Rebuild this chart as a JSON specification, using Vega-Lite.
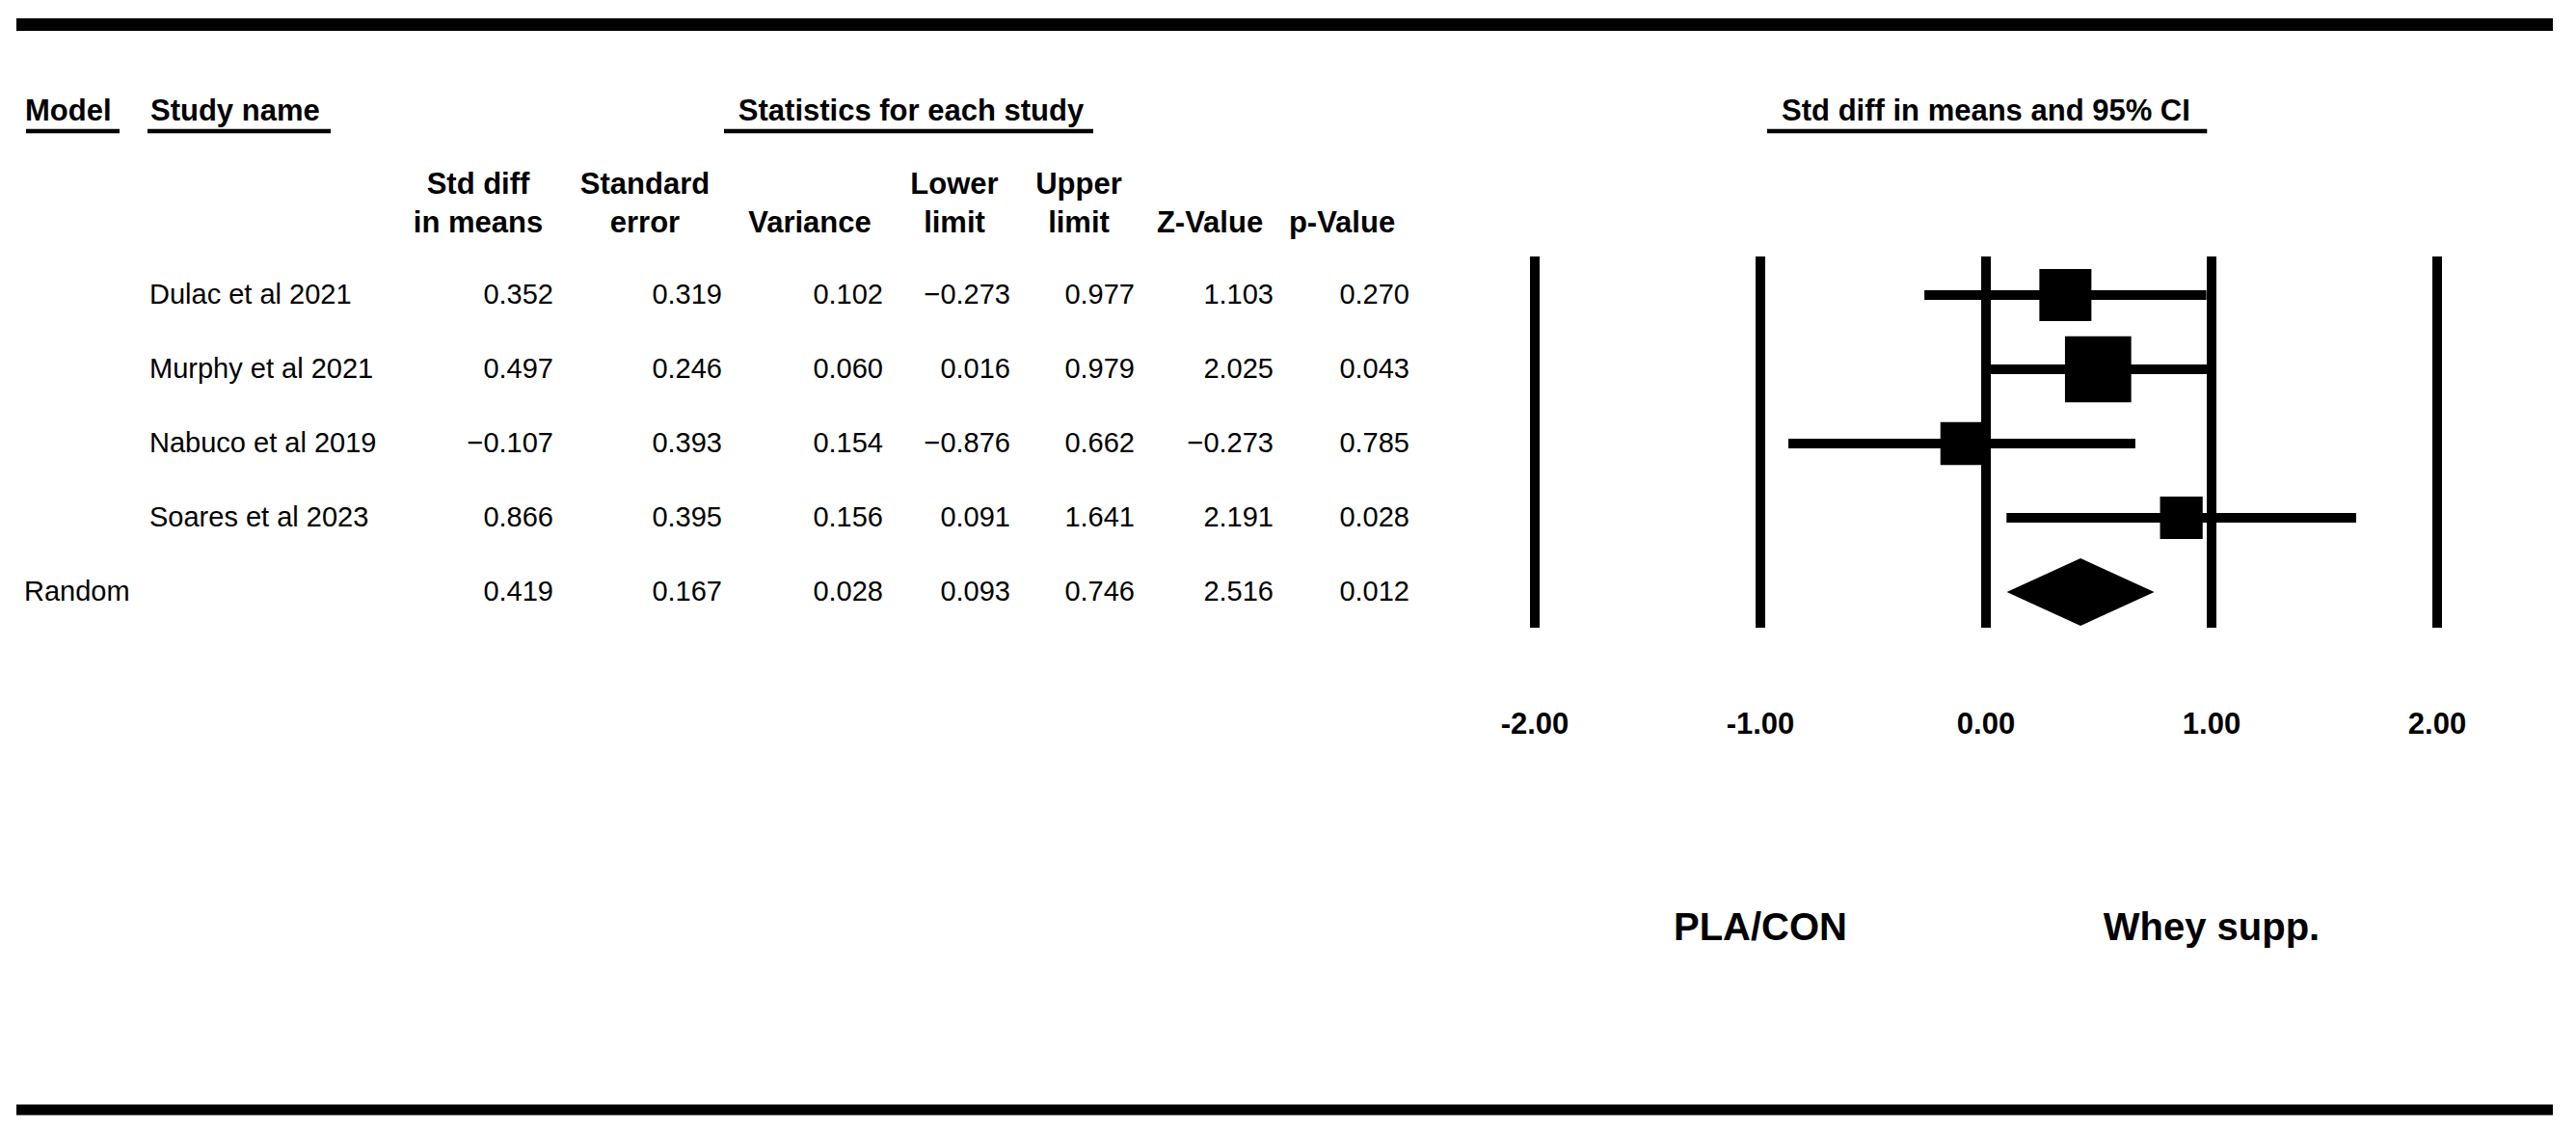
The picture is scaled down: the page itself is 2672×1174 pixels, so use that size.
{
  "$schema": "https://vega.github.io/schema/vega-lite/v6.json",
  "width": 2672,
  "height": 1174,
  "autosize": "none",
  "padding": 0,
  "background": "white",
  "config": {"view": {"stroke": null}},
  "datasets": {
    "studies": [
      {"row": 1, "kind": "study", "model": "", "study": "Dulac et al 2021", "smd": 0.352, "se": 0.319, "variance": 0.102, "lower": -0.273, "upper": 0.977, "z": 1.103, "p": 0.270, "weight": 25.2},
      {"row": 2, "kind": "study", "model": "", "study": "Murphy et al 2021", "smd": 0.497, "se": 0.246, "variance": 0.060, "lower": 0.016, "upper": 0.979, "z": 2.025, "p": 0.043, "weight": 40.8},
      {"row": 3, "kind": "study", "model": "", "study": "Nabuco et al 2019", "smd": -0.107, "se": 0.393, "variance": 0.154, "lower": -0.876, "upper": 0.662, "z": -0.273, "p": 0.785, "weight": 17.1},
      {"row": 4, "kind": "study", "model": "", "study": "Soares et al 2023", "smd": 0.866, "se": 0.395, "variance": 0.156, "lower": 0.091, "upper": 1.641, "z": 2.191, "p": 0.028, "weight": 16.9},
      {"row": 5, "kind": "summary", "model": "Random", "study": "", "smd": 0.419, "se": 0.167, "variance": 0.028, "lower": 0.093, "upper": 0.746, "z": 2.516, "p": 0.012, "weight": null}
    ],
    "headers": [
      {"key": "smd", "line1": "Std diff", "line2": "in means"},
      {"key": "se", "line1": "Standard", "line2": "error"},
      {"key": "variance", "line1": "", "line2": "Variance"},
      {"key": "lower", "line1": "Lower", "line2": "limit"},
      {"key": "upper", "line1": "Upper", "line2": "limit"},
      {"key": "z", "line1": "", "line2": "Z-Value"},
      {"key": "p", "line1": "", "line2": "p-Value"}
    ],
    "refs": [{"v": -2, "label": "-2.00"}, {"v": -1, "label": "-1.00"}, {"v": 0, "label": "0.00"}, {"v": 1, "label": "1.00"}, {"v": 2, "label": "2.00"}],
    "sides": [{"side": "PLA/CON", "v": -1}, {"side": "Whey supp.", "v": 1}],
    "sections": [{"col": "Model"}, {"col": "Study name"}],
    "one": [{}]
  },
  "layer": [
    {
      "layer": [
        {
          "data": {"name": "studies"},
          "transform": [{"fold": ["smd", "se", "variance", "lower", "upper", "z", "p"], "as": ["key", "value"]}],
          "mark": {"type": "text", "align": "right", "baseline": "middle", "font": "Liberation Sans", "fontSize": 29, "color": "black",
                   "dx": {"expr": "datum.key==='se'?27:datum.key==='variance'?46:datum.key==='lower'?30:datum.key==='upper'?11:datum.key==='z'?7:0"}},
          "encoding": {
            "x": {"field": "key", "type": "nominal", "axis": null, "scale": {"type": "point", "domain": ["smd", "se", "variance", "lower", "upper", "z", "p"], "range": [574, 1462], "padding": 0}},
            "y": {"field": "row", "type": "quantitative", "axis": null, "scale": {"domain": [-2.974, 12.273], "reverse": true, "nice": false, "zero": false}},
            "text": {"field": "value", "type": "quantitative", "format": ".3f"}
          }
        },
        {
          "data": {"name": "headers"},
          "mark": {"type": "text", "align": "center", "baseline": "middle", "font": "Liberation Sans", "fontWeight": "bold", "fontSize": 31, "color": "black",
                   "dx": {"expr": "datum.key==='smd'?-78:datum.key==='se'?-53:datum.key==='variance'?-30:datum.key==='lower'?-28:datum.key==='upper'?-47:datum.key==='z'?-59:-70"}},
          "encoding": {
            "x": {"field": "key", "type": "nominal", "axis": null},
            "y": {"datum": -0.4805, "type": "quantitative", "axis": null, "scale": {"domain": [-2.974, 12.273], "reverse": true, "nice": false, "zero": false}},
            "text": {"field": "line1"}
          }
        },
        {
          "data": {"name": "headers"},
          "mark": {"type": "text", "align": "center", "baseline": "middle", "font": "Liberation Sans", "fontWeight": "bold", "fontSize": 31, "color": "black",
                   "dx": {"expr": "datum.key==='smd'?-78:datum.key==='se'?-53:datum.key==='variance'?-30:datum.key==='lower'?-28:datum.key==='upper'?-47:datum.key==='z'?-59:-70"}},
          "encoding": {
            "x": {"field": "key", "type": "nominal", "axis": null},
            "y": {"datum": 0.039, "type": "quantitative", "axis": null, "scale": {"domain": [-2.974, 12.273], "reverse": true, "nice": false, "zero": false}},
            "text": {"field": "line2"}
          }
        },
        {
          "data": {"name": "one"},
          "mark": {"type": "text", "align": "center", "baseline": "middle", "font": "Liberation Sans", "fontWeight": "bold", "fontSize": 31, "color": "black", "dx": 75},
          "encoding": {
            "x": {"datum": "variance", "type": "nominal", "axis": null},
            "y": {"datum": -1.468, "type": "quantitative", "axis": null, "scale": {"domain": [-2.974, 12.273], "reverse": true, "nice": false, "zero": false}},
            "text": {"value": "Statistics for each study"}
          }
        },
        {
          "data": {"name": "one"},
          "mark": {"type": "rule", "color": "black", "strokeWidth": 4.5, "xOffset": -119, "x2Offset": -32},
          "encoding": {
            "x": {"datum": "variance", "type": "nominal", "axis": null},
            "x2": {"datum": "upper"},
            "y": {"datum": -1.208, "type": "quantitative", "axis": null, "scale": {"domain": [-2.974, 12.273], "reverse": true, "nice": false, "zero": false}}
          }
        }
      ]
    },
    {
      "layer": [
        {
          "data": {"name": "sections"},
          "mark": {"type": "text", "align": "left", "baseline": "middle", "font": "Liberation Sans", "fontWeight": "bold", "fontSize": 31, "color": "black", "dx": 1},
          "encoding": {
            "x": {"field": "col", "type": "nominal", "axis": null, "scale": {"type": "point", "domain": ["Model", "Study name"], "range": [25, 155], "padding": 0}},
            "y": {"datum": -1.468, "type": "quantitative", "axis": null, "scale": {"domain": [-2.974, 12.273], "reverse": true, "nice": false, "zero": false}},
            "text": {"field": "col"}
          }
        },
        {
          "data": {"name": "one"},
          "mark": {"type": "rule", "color": "black", "strokeWidth": 4.5, "xOffset": 2, "x2Offset": 99},
          "encoding": {
            "x": {"datum": "Model", "type": "nominal", "axis": null},
            "x2": {"datum": "Model"},
            "y": {"datum": -1.208, "type": "quantitative", "axis": null, "scale": {"domain": [-2.974, 12.273], "reverse": true, "nice": false, "zero": false}}
          }
        },
        {
          "data": {"name": "one"},
          "mark": {"type": "rule", "color": "black", "strokeWidth": 4.5, "xOffset": -2, "x2Offset": 188},
          "encoding": {
            "x": {"datum": "Study name", "type": "nominal", "axis": null},
            "x2": {"datum": "Study name"},
            "y": {"datum": -1.208, "type": "quantitative", "axis": null, "scale": {"domain": [-2.974, 12.273], "reverse": true, "nice": false, "zero": false}}
          }
        },
        {
          "data": {"name": "studies"},
          "mark": {"type": "text", "align": "left", "baseline": "middle", "font": "Liberation Sans", "fontSize": 29, "color": "black"},
          "encoding": {
            "x": {"datum": "Study name", "type": "nominal", "axis": null},
            "y": {"field": "row", "type": "quantitative", "axis": null, "scale": {"domain": [-2.974, 12.273], "reverse": true, "nice": false, "zero": false}},
            "text": {"field": "study"}
          }
        },
        {
          "data": {"name": "studies"},
          "mark": {"type": "text", "align": "left", "baseline": "middle", "font": "Liberation Sans", "fontSize": 29, "color": "black"},
          "encoding": {
            "x": {"datum": "Model", "type": "nominal", "axis": null},
            "y": {"field": "row", "type": "quantitative", "axis": null, "scale": {"domain": [-2.974, 12.273], "reverse": true, "nice": false, "zero": false}},
            "text": {"field": "model"}
          }
        },
        {
          "data": {"name": "one"},
          "mark": {"type": "rule", "color": "black", "strokeWidth": 13, "xOffset": -8, "x2Offset": 2623},
          "encoding": {
            "x": {"datum": "Model", "type": "nominal", "axis": null},
            "x2": {"datum": "Model"},
            "y": {"datum": -2.643, "type": "quantitative", "axis": null, "scale": {"domain": [-2.974, 12.273], "reverse": true, "nice": false, "zero": false}}
          }
        },
        {
          "data": {"name": "one"},
          "mark": {"type": "rule", "color": "black", "strokeWidth": 11, "xOffset": -8, "x2Offset": 2623},
          "encoding": {
            "x": {"datum": "Model", "type": "nominal", "axis": null},
            "x2": {"datum": "Model"},
            "y": {"datum": 11.974, "type": "quantitative", "axis": null, "scale": {"domain": [-2.974, 12.273], "reverse": true, "nice": false, "zero": false}}
          }
        }
      ]
    },
    {
      "layer": [
        {
          "data": {"name": "refs"},
          "mark": {"type": "rule", "color": "black", "strokeWidth": 10, "strokeCap": "butt"},
          "encoding": {
            "x": {"field": "v", "type": "quantitative", "axis": null, "scale": {"domain": [-8.8034, 2.6154], "nice": false, "zero": false}},
            "y": {"datum": 0.4805, "type": "quantitative", "axis": null, "scale": {"domain": [-2.974, 12.273], "reverse": true, "nice": false, "zero": false}},
            "y2": {"datum": 5.48}
          }
        },
        {
          "data": {"name": "refs"},
          "mark": {"type": "text", "align": "center", "baseline": "middle", "font": "Liberation Sans", "fontWeight": "bold", "fontSize": 31, "color": "black"},
          "encoding": {
            "x": {"field": "v", "type": "quantitative", "axis": null},
            "y": {"datum": 6.792, "type": "quantitative", "axis": null, "scale": {"domain": [-2.974, 12.273], "reverse": true, "nice": false, "zero": false}},
            "text": {"field": "label"}
          }
        },
        {
          "data": {"name": "studies"},
          "transform": [{"filter": "datum.kind === 'study'"}],
          "mark": {"type": "rule", "color": "black", "strokeWidth": 10, "strokeCap": "butt"},
          "encoding": {
            "x": {"field": "lower", "type": "quantitative", "axis": null},
            "x2": {"field": "upper"},
            "y": {"field": "row", "type": "quantitative", "axis": null, "scale": {"domain": [-2.974, 12.273], "reverse": true, "nice": false, "zero": false}}
          }
        },
        {
          "data": {"name": "studies"},
          "transform": [{"filter": "datum.kind === 'study'"}],
          "mark": {"type": "point", "shape": "square", "filled": true, "color": "black", "opacity": 1},
          "encoding": {
            "x": {"field": "smd", "type": "quantitative", "axis": null},
            "y": {"field": "row", "type": "quantitative", "axis": null, "scale": {"domain": [-2.974, 12.273], "reverse": true, "nice": false, "zero": false}},
            "size": {"field": "weight", "type": "quantitative", "legend": null, "scale": {"domain": [0, 50], "range": [0, 5785], "zero": true}}
          }
        },
        {
          "data": {"name": "studies"},
          "transform": [{"filter": "datum.kind === 'summary'"}],
          "mark": {"type": "point", "shape": "M-1,0L0,-0.4575L1,0L0,0.4575Z", "filled": true, "color": "black", "opacity": 1, "size": 23409},
          "encoding": {
            "x": {"field": "smd", "type": "quantitative", "axis": null},
            "y": {"field": "row", "type": "quantitative", "axis": null, "scale": {"domain": [-2.974, 12.273], "reverse": true, "nice": false, "zero": false}}
          }
        },
        {
          "data": {"name": "one"},
          "mark": {"type": "text", "align": "center", "baseline": "middle", "font": "Liberation Sans", "fontWeight": "bold", "fontSize": 31, "color": "black"},
          "encoding": {
            "x": {"datum": 0, "type": "quantitative", "axis": null},
            "y": {"datum": -1.468, "type": "quantitative", "axis": null, "scale": {"domain": [-2.974, 12.273], "reverse": true, "nice": false, "zero": false}},
            "text": {"value": "Std diff in means and 95% CI"}
          }
        },
        {
          "data": {"name": "one"},
          "mark": {"type": "rule", "color": "black", "strokeWidth": 4.5},
          "encoding": {
            "x": {"datum": -0.97, "type": "quantitative", "axis": null},
            "x2": {"datum": 0.98},
            "y": {"datum": -1.208, "type": "quantitative", "axis": null, "scale": {"domain": [-2.974, 12.273], "reverse": true, "nice": false, "zero": false}}
          }
        },
        {
          "data": {"name": "sides"},
          "mark": {"type": "text", "align": "center", "baseline": "middle", "font": "Liberation Sans", "fontWeight": "bold", "fontSize": 40, "color": "black"},
          "encoding": {
            "x": {"field": "v", "type": "quantitative", "axis": null},
            "y": {"datum": 9.532, "type": "quantitative", "axis": null, "scale": {"domain": [-2.974, 12.273], "reverse": true, "nice": false, "zero": false}},
            "text": {"field": "side"}
          }
        }
      ]
    }
  ],
  "resolve": {"scale": {"x": "independent"}}
}
